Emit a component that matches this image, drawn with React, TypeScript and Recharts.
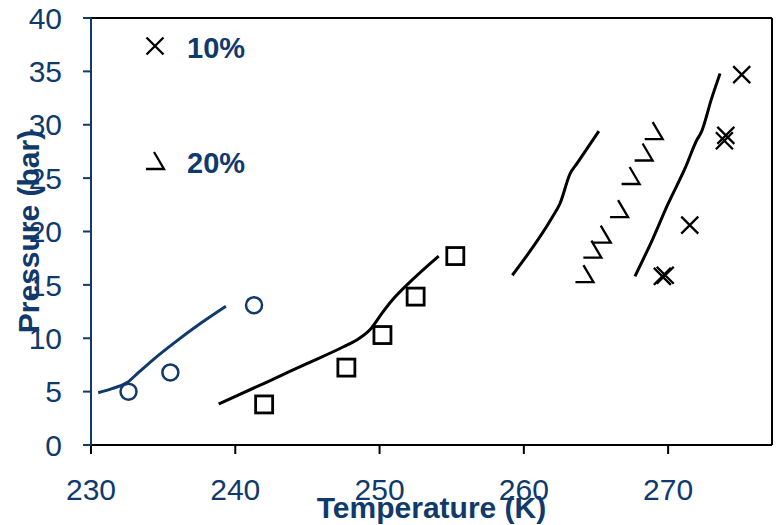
import {
  ComposedChart,
  Label,
  Line,
  ReferenceLine,
  Scatter,
  XAxis,
  YAxis,
} from "recharts";

const NAVY = "#0F3A6B";
const FONT = "'Liberation Sans', Arial, sans-serif";

const xTicks = [230, 240, 250, 260, 270];
const yTicks = [0, 5, 10, 15, 20, 25, 30, 35, 40];

// measured points
const circlePts = [
  [232.6, 5.0],
  [235.5, 6.8],
  [241.3, 13.1],
];
const squarePts = [
  [242.0, 3.8],
  [247.7, 7.25],
  [250.2, 10.3],
  [252.5, 13.9],
  [255.25, 17.7],
];
const cross10 = [
  [269.6, 15.8],
  [269.8, 15.9],
  [271.5, 20.6],
  [273.9, 28.5],
  [274.0, 29.0],
  [275.1, 34.7],
];
const vee20 = [
  [264.2, 16.0],
  [264.75, 18.3],
  [265.4, 19.7],
  [266.6, 22.1],
  [267.4, 25.2],
  [268.3, 27.4],
  [269.0, 29.4],
];

// model curves
const curveA = [
  [230.5, 4.9],
  [231.5, 5.3],
  [232.5, 5.85],
  [233.3, 6.8],
  [234.4, 8.1],
  [235.7, 9.5],
  [237.6, 11.4],
  [239.35, 13.0],
];
const curveB = [
  [238.85, 3.85],
  [242.2, 5.9],
  [245.0, 7.65],
  [247.5, 9.2],
  [248.6, 10.0],
  [249.4, 10.9],
  [250.2, 12.4],
  [250.9, 13.6],
  [251.9, 15.0],
  [254.1, 17.7],
];
const curveC = [
  [259.2, 15.9],
  [262.0, 21.4],
  [262.5, 22.6],
  [263.2, 25.4],
  [263.7, 26.4],
  [265.2, 29.4],
];
const curveD = [
  [267.7, 15.8],
  [268.9, 19.2],
  [270.0, 22.6],
  [271.2, 26.0],
  [272.0, 28.6],
  [272.3, 29.3],
  [273.0, 32.4],
  [273.6, 34.8],
];

const toRows = (pts: number[][]) => pts.map(([t, p]) => ({ t, p }));

const CircleMark = ({ cx, cy }: any) => (
  <circle cx={cx} cy={cy} r={8} fill="none" stroke={NAVY} strokeWidth={2.5} />
);
const SquareMark = ({ cx, cy }: any) => (
  <rect x={cx - 8.5} y={cy - 8.5} width={17} height={17} fill="none" stroke="#000" strokeWidth={2.8} />
);
const CrossMark = ({ cx, cy }: any) => (
  <path
    d={`M${cx - 8.5},${cy - 8.5}L${cx + 8.5},${cy + 8.5}M${cx + 8.5},${cy - 8.5}L${cx - 8.5},${cy + 8.5}`}
    stroke="#000"
    strokeWidth={2.3}
  />
);
const VeeMark = ({ cx, cy }: any) => (
  <polyline
    points={`${cx - 1},${cy - 9} ${cx + 9},${cy + 8} ${cx - 9},${cy + 8}`}
    fill="none"
    stroke="#000"
    strokeWidth={2.3}
  />
);

// legend sits over the plot in the top-left corner
const LegendBox = () => (
  <svg
    width={140}
    height={170}
    style={{ position: "absolute", left: 140, top: 25, pointerEvents: "none" }}
  >
    <CrossMark cx={15} cy={21} />
    <text x={47} y={33} fill={NAVY} fontSize={29} fontWeight="bold" fontFamily={FONT}>
      10%
    </text>
    <VeeMark cx={15} cy={136} />
    <text x={47} y={148} fill={NAVY} fontSize={29} fontWeight="bold" fontFamily={FONT}>
      20%
    </text>
  </svg>
);

export default function App() {
  return (
    <div style={{ position: "absolute", left: 0, top: 0, width: 777, height: 525, background: "#fff" }}>
      <ComposedChart
        width={777}
        height={525}
        margin={{ top: 18, right: 5, left: 0, bottom: 0 }}
      >
        <XAxis
          dataKey="t"
          type="number"
          domain={[230, 277.2]}
          ticks={xTicks}
          allowDataOverflow
          height={80}
          tickSize={9}
          tickMargin={25}
          axisLine={{ stroke: "#000", strokeWidth: 2 }}
          tickLine={{ stroke: "#000", strokeWidth: 2 }}
          tick={{ fill: NAVY, fontSize: 30, fontFamily: FONT }}
        >
          <Label
            value="Temperature (K)"
            position="insideBottom"
            offset={7}
            style={{ fill: NAVY, fontSize: 30, fontWeight: "bold", fontFamily: FONT }}
          />
        </XAxis>
        <YAxis
          dataKey="p"
          type="number"
          domain={[0, 40]}
          ticks={yTicks}
          width={91}
          tickSize={8}
          tickMargin={21}
          axisLine={{ stroke: NAVY, strokeWidth: 2 }}
          tickLine={{ stroke: NAVY, strokeWidth: 2 }}
          tick={{ fill: NAVY, fontSize: 30, fontFamily: FONT }}
        >
          <Label
            value="Pressure (bar)"
            angle={-90}
            position="insideLeft"
            offset={28}
            style={{ textAnchor: "middle", fill: NAVY, fontSize: 30, fontWeight: "bold", fontFamily: FONT }}
          />
        </YAxis>
        <ReferenceLine y={40} stroke="#000" strokeWidth={2} />
        <ReferenceLine x={277.2} stroke="#000" strokeWidth={2} />

        <Line data={toRows(curveA)} dataKey="p" type="monotone" stroke={NAVY} strokeWidth={3} dot={false} isAnimationActive={false} />
        <Line data={toRows(curveB)} dataKey="p" type="monotone" stroke="#000" strokeWidth={3} dot={false} isAnimationActive={false} />
        <Line data={toRows(curveC)} dataKey="p" type="monotone" stroke="#000" strokeWidth={3} dot={false} isAnimationActive={false} />
        <Line data={toRows(curveD)} dataKey="p" type="monotone" stroke="#000" strokeWidth={3} dot={false} isAnimationActive={false} />

        <Scatter data={toRows(circlePts)} dataKey="p" shape={<CircleMark />} isAnimationActive={false} />
        <Scatter data={toRows(squarePts)} dataKey="p" shape={<SquareMark />} isAnimationActive={false} />
        <Scatter data={toRows(cross10)} dataKey="p" shape={<CrossMark />} isAnimationActive={false} />
        <Scatter data={toRows(vee20)} dataKey="p" shape={<VeeMark />} isAnimationActive={false} />
      </ComposedChart>
      <LegendBox />
    </div>
  );
}
